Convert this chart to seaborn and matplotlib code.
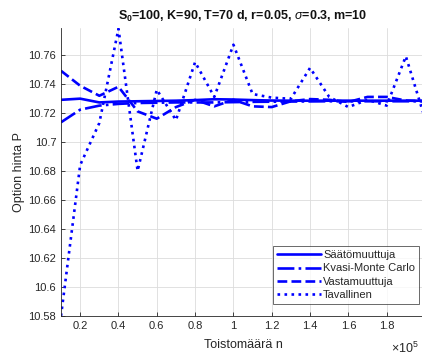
import matplotlib
matplotlib.use('Agg')
import matplotlib.pyplot as plt
import seaborn as sns
import pandas as pd

# toistomäärät
n = [10000, 20000, 30000, 40000, 50000, 60000, 70000, 80000, 90000, 100000,
     110000, 120000, 130000, 140000, 150000, 160000, 170000, 180000, 190000, 200000]

saato = [10.729, 10.7298, 10.7272, 10.7278, 10.728, 10.7282, 10.7284, 10.7288, 10.7294, 10.7292,
         10.7288, 10.7285, 10.7284, 10.7284, 10.7284, 10.7284, 10.7284, 10.7284, 10.7284, 10.7284]
kvasi = [10.7135, 10.7222, 10.725, 10.7262, 10.7268, 10.727, 10.7272, 10.7272, 10.7272, 10.7274,
         10.7276, 10.7277, 10.7278, 10.7279, 10.728, 10.728, 10.728, 10.728, 10.728, 10.728]
vasta = [10.749, 10.7387, 10.7318, 10.738, 10.721, 10.716, 10.724, 10.729, 10.7245, 10.729,
         10.7245, 10.724, 10.728, 10.7295, 10.7290, 10.7275, 10.731, 10.731, 10.7285, 10.728]
tavallinen = [10.580, 10.684, 10.713, 10.778, 10.680, 10.736, 10.715, 10.755, 10.731, 10.767,
              10.733, 10.7305, 10.7297, 10.751, 10.731, 10.724, 10.729, 10.725, 10.759, 10.716]

series = ['Säätömuuttuja', 'Kvasi-Monte Carlo', 'Vastamuuttuja', 'Tavallinen']
values = [saato, kvasi, vasta, tavallinen]
styles = ['-', '-.', '--', ':']

yticks = [10.58, 10.60, 10.62, 10.64, 10.66, 10.68, 10.70, 10.72, 10.74, 10.76]
xticks = [20000, 40000, 60000, 80000, 100000, 120000, 140000, 160000, 180000, 200000]

sns.set_style('ticks')
plt.rcParams['font.family'] = ['Liberation Sans', 'DejaVu Sans']
plt.rcParams['mathtext.fontset'] = 'custom'
plt.rcParams['mathtext.rm'] = 'Liberation Sans'
plt.rcParams['mathtext.bf'] = 'Liberation Sans:bold'
plt.rcParams['mathtext.it'] = 'Liberation Sans:italic'

fig = plt.figure(figsize=(4.22, 3.56), dpi=100)
ax = fig.add_axes([61 / 422, 1 - 316 / 356, 364 / 422, 288 / 356])

for name, vals, ls in zip(series, values, styles):
    df = pd.DataFrame({'n': n, 'P': vals})
    sns.lineplot(data=df, x='n', y='P', ax=ax, color='blue', linestyle=ls,
                 linewidth=1.9, label=name)

ax.set_xlim(10000, 200000)
ax.set_ylim(10.58, 10.7785)
ax.set_xticks(xticks)
ax.set_xticklabels(['%g' % (v / 1e5) for v in xticks])
ax.set_yticks(yticks)
ax.set_yticklabels(['%g' % v for v in yticks])
ax.tick_params(direction='in', length=3, labelsize=8, colors='#262626', width=0.6)
ax.grid(True, color='#dcdcdc', linewidth=0.6)
ax.set_axisbelow(True)
for s in ['top', 'right']:
    ax.spines[s].set_visible(False)
for s in ['left', 'bottom']:
    ax.spines[s].set_color('#262626')
    ax.spines[s].set_linewidth(0.6)

ax.set_xlabel('Toistomäärä n', fontsize=9, color='#262626', labelpad=6)
ax.set_ylabel('Option hinta P', fontsize=9, color='#262626', labelpad=2)
ax.set_title(r'$\mathbf{S}_\mathbf{0}$=100, K=90, T=70 d, r=0.05, $\sigma$=0.3, m=10',
             fontsize=9, fontweight='bold', color='#111111', pad=6)
fig.text(391 / 422, 1 - 348 / 356, r'$\times10^5$', fontsize=9, color='#262626',
         va='center', ha='left')

leg = ax.legend(loc='lower right', bbox_to_anchor=(419 / 422, 1 - 304 / 356),
                bbox_transform=fig.transFigure, fontsize=8, frameon=True,
                fancybox=False, edgecolor='#262626', handlelength=4.0,
                handletextpad=0.15, borderpad=0.35, labelspacing=0.3, borderaxespad=0)
leg.get_frame().set_linewidth(0.6)

fig.savefig('out.png', dpi=100)
